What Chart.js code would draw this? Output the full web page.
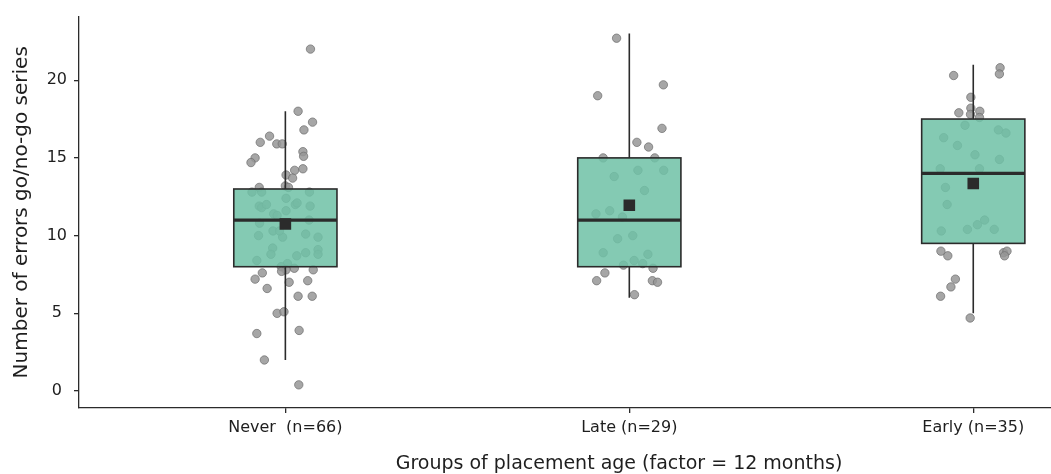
<!DOCTYPE html>
<html>
<head>
<meta charset="utf-8">
<script src="https://cdn.jsdelivr.net/npm/chart.js@4/dist/chart.umd.min.js"></script>
<style>
  html, body { margin: 0; padding: 0; background: #ffffff; overflow: hidden; }
  #wrap { width: 1051px; height: 474px; }
</style>
</head>
<body>
<div id="wrap"><canvas id="c" width="1051" height="474"></canvas></div>
<script>
// ---- data ----
const categories = ['Never  (n=66)', 'Late (n=29)', 'Early (n=35)'];
const yTicks = [0, 5, 10, 15, 20];
const q1 = [8, 8, 9.5];
const median = [11, 11, 14];
const q3 = [13, 15, 17.5];
const whiskerLow = [2, 6, 5];
const whiskerHigh = [18, 23, 21];
const means = [10.75, 11.95, 13.35];

const neverValues = [22.0, 18.0, 17.3, 16.8, 16.4, 16.0, 15.9, 15.9, 15.4, 15.1, 15.0, 14.7, 14.2, 14.3, 13.9, 13.7,
  13.2, 13.1, 13.1, 12.8, 12.8, 12.8, 12.4, 11.9, 11.8, 12.0, 12.1, 11.9, 11.6, 11.4, 11.3, 11.0, 10.8, 10.3, 10.0,
  9.9, 10.1, 9.9, 9.2, 8.8, 8.7, 8.9, 9.1, 8.8, 8.4, 8.2, 8.0, 7.9, 7.8, 7.8, 7.6, 7.2, 7.7, 7.0, 7.1, 6.6, 6.1, 6.1,
  5.0, 5.1, 3.7, 3.9, 2.0, 0.4, 10.3, 12.0];
const neverJitter = [0.073, 0.037, 0.079, 0.054, -0.046, -0.073, -0.025, -0.009, 0.051, 0.053, -0.088, -0.100, 0.027,
  0.051, 0.002, 0.021, 0.000, 0.009, -0.076, -0.097, -0.069, 0.070, 0.002, -0.076, -0.069, 0.029, 0.034, 0.072, 0.002,
  -0.034, -0.024, 0.069, -0.075, -0.036, -0.078, -0.008, 0.059, 0.095, -0.037, -0.042, 0.033, 0.059, 0.095, 0.095,
  -0.083, 0.006, -0.012, 0.026, 0.002, 0.081, -0.067, -0.088, -0.011, 0.011, 0.065, -0.053, 0.037, 0.078, -0.024,
  -0.004, -0.083, 0.040, -0.061, 0.039, -0.017, -0.055];

const lateValues = [22.7, 19.0, 19.7, 16.9, 16.0, 15.7, 15.0, 15.0, 14.2, 14.2, 13.8, 12.9, 11.4, 11.6, 11.2, 9.8, 10.0,
  8.9, 8.8, 8.1, 8.4, 8.2, 7.9, 7.6, 7.1, 7.1, 7.0, 6.2, 12.0];
const lateJitter = [-0.037, -0.092, 0.099, 0.095, 0.022, 0.056, -0.076, 0.074, 0.025, 0.100, -0.044, 0.044, -0.097,
  -0.057, -0.020, -0.034, 0.010, -0.076, 0.054, -0.017, 0.014, 0.039, 0.069, -0.071, -0.095, 0.067, 0.082, 0.015, 0.000];

const earlyValues = [20.3, 20.8, 20.4, 18.9, 18.2, 17.9, 17.8, 18.0, 17.6, 17.1, 16.8, 16.6, 16.3, 15.8, 15.2, 14.9,
  14.3, 14.3, 13.1, 12.0, 11.0, 10.7, 10.4, 10.4, 10.3, 9.0, 8.7, 8.9, 9.0, 8.7, 7.2, 6.7, 6.1, 4.7, 13.3];
const earlyJitter = [-0.057, 0.078, 0.076, -0.007, -0.007, -0.042, -0.008, 0.019, 0.018, -0.024, 0.073, 0.095, -0.086,
  -0.046, 0.005, 0.076, -0.096, 0.018, -0.081, -0.076, 0.033, 0.012, -0.017, 0.061, -0.093, -0.094, -0.074, 0.088,
  0.098, 0.091, -0.052, -0.065, -0.095, -0.009, 0.000];

const xTitle = 'Groups of placement age (factor = 12 months)';
const yTitle = 'Number of errors go/no-go series';

// ---- build chart data ----
const groups = [[neverValues, neverJitter], [lateValues, lateJitter], [earlyValues, earlyJitter]];
const pointData = [];
groups.forEach(([vals, jit], g) => {
  vals.forEach((v, k) => pointData.push({ x: g + 1 + jit[k], y: v }));
});
const meanData = means.map((m, i) => ({ x: i + 1, y: m }));

const BOX_HALF = 0.15;
const TITLE_CENTER = 1.97;   // x-axis title centre (axis units; the original panel runs past the crop)
const INK = '#2b2b2b';
const FONT = "'DejaVu Sans', sans-serif";

const boxPlugin = {
  id: 'boxes',
  afterDatasetDraw(chart, args) {
    if (args.index !== 0) return;
    const { ctx, scales: { x, y } } = chart;
    ctx.save();
    categories.forEach((c, i) => {
      const cx = x.getPixelForValue(i + 1);
      const l = x.getPixelForValue(i + 1 - BOX_HALF);
      const r = x.getPixelForValue(i + 1 + BOX_HALF);
      const yq1 = y.getPixelForValue(q1[i]);
      const yq3 = y.getPixelForValue(q3[i]);
      const ymed = y.getPixelForValue(median[i]);
      const ylo = y.getPixelForValue(whiskerLow[i]);
      const yhi = y.getPixelForValue(whiskerHigh[i]);
      ctx.strokeStyle = INK;
      ctx.lineWidth = 1.6;
      ctx.beginPath();
      ctx.moveTo(cx, yq3); ctx.lineTo(cx, yhi);
      ctx.moveTo(cx, yq1); ctx.lineTo(cx, ylo);
      ctx.stroke();
      ctx.fillStyle = 'rgba(112,193,166,0.86)';
      ctx.fillRect(l, yq3, r - l, yq1 - yq3);
      ctx.lineWidth = 1.6;
      ctx.strokeRect(l, yq3, r - l, yq1 - yq3);
      ctx.lineWidth = 3.2;
      ctx.beginPath();
      ctx.moveTo(l, ymed); ctx.lineTo(r, ymed);
      ctx.stroke();
    });
    ctx.restore();
  },
  afterDraw(chart) {
    const { ctx, scales: { x } } = chart;
    ctx.save();
    ctx.font = '19px ' + FONT;
    ctx.fillStyle = '#1e1e1e';
    ctx.textAlign = 'center';
    ctx.textBaseline = 'middle';
    ctx.fillText(xTitle, x.getPixelForValue(TITLE_CENTER), 464);
    ctx.restore();
  }
};

Chart.defaults.font.family = FONT;
Chart.defaults.color = '#1e1e1e';

new Chart(document.getElementById('c'), {
  type: 'scatter',
  data: {
    datasets: [
      {
        label: 'observations',
        data: pointData,
        order: 2,
        pointRadius: 4.2,
        pointHoverRadius: 4.2,
        backgroundColor: 'rgba(150,150,150,0.85)',
        borderColor: 'rgba(110,110,110,0.9)',
        borderWidth: 0.8
      },
      {
        label: 'mean',
        data: meanData,
        order: 1,
        pointStyle: 'rect',
        pointRadius: 8.2,
        pointHoverRadius: 8.2,
        backgroundColor: '#2b2b2b',
        borderColor: '#2b2b2b',
        borderWidth: 0
      }
    ]
  },
  options: {
    responsive: false,
    animation: false,
    events: [],
    layout: { autoPadding: false, padding: { top: 14, right: 0, left: 0, bottom: 0 } },
    plugins: { legend: { display: false }, tooltip: { enabled: false } },
    scales: {
      x: {
        type: 'linear',
        min: 0.4,
        max: 3.226,
        afterFit: s => { s.height = 66; },
        afterBuildTicks: s => { s.ticks = categories.map((c, i) => ({ value: i + 1 })); },
        grid: { drawOnChartArea: false, drawTicks: true, tickLength: 5, color: INK, lineWidth: 1.3 },
        border: { display: true, color: INK, width: 1.3 },
        ticks: {
          padding: 5,
          font: { size: 16 },
          maxRotation: 0,
          autoSkip: false,
          callback: (v) => categories[Math.round(v) - 1]
        },
        title: { display: false }
      },
      y: {
        type: 'linear',
        min: -1.09,
        max: 24.09,
        afterFit: s => { s.width = 79; },
        afterBuildTicks: s => { s.ticks = yTicks.map(v => ({ value: v })); },
        grid: { drawOnChartArea: false, drawTicks: true, tickLength: 5, color: INK, lineWidth: 1.3 },
        border: { display: true, color: INK, width: 1.3 },
        ticks: {
          padding: 7,
          crossAlign: 'center',
          font: { size: 16 },
          callback: v => String(v)
        },
        title: {
          display: true,
          text: yTitle,
          font: { size: 20, lineHeight: 1.2 },
          padding: { top: 10 }
        }
      }
    }
  },
  plugins: [boxPlugin]
});
</script>
</body>
</html>
